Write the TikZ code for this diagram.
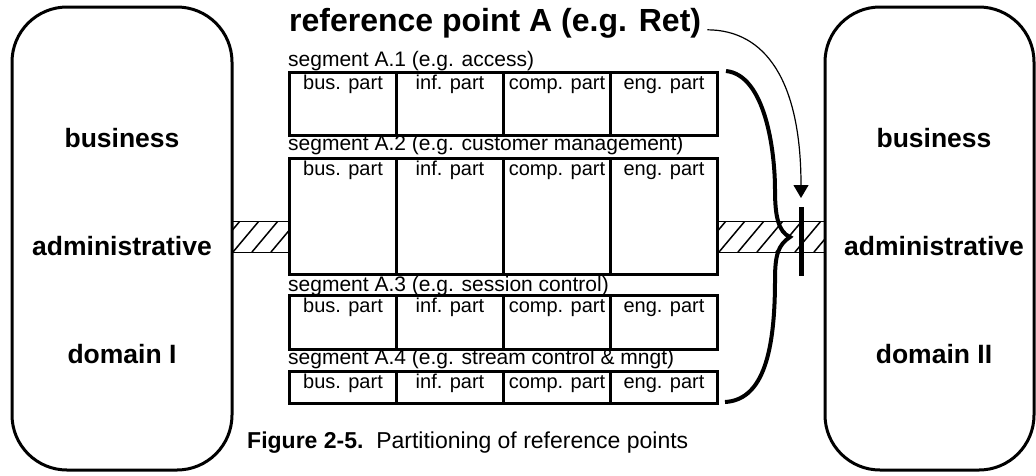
\documentclass[tikz,border=0pt]{standalone}
\usepackage{fontspec}
\setmainfont{Liberation Sans}
\usetikzlibrary{arrows.meta,positioning}

\tikzset{
  dombox/.style={draw, line width=3pt, rounded corners=55pt, minimum height=463pt, inner sep=0pt},
  domtext/.style={font=\fontsize{26.5}{30}\selectfont\bfseries, anchor=base},
  seglabel/.style={font=\fontsize{21}{24}\selectfont, anchor=base west, inner sep=0pt},
  partbox/.style={draw, line width=3pt, inner sep=0pt, minimum width=107pt, text height=17pt,
    anchor=north west, font=\fontsize{20}{22}\selectfont},
  hatchline/.style={line width=1.5pt},
  bracepath/.style={line width=4pt},
}

\begin{document}
\begin{tikzpicture}[x=1pt, y=-1pt]
    \useasboundingbox (0,0) rectangle (1036,475);

    % the two administrative domains
    \node[dombox, minimum width=220pt] (dom1) at (122,238.5) {};
    \node[dombox, minimum width=209pt] (dom2) at (929.5,238.5) {};
    \node[domtext] (bus1) at (122,147) {business};
    \node[domtext] (adm1) at (122,255) {administrative};
    \node[domtext] (dmn1) at (122,363) {domain I};
    \node[domtext] (bus2) at (934,147) {business};
    \node[domtext] (adm2) at (934,255) {administrative};
    \node[domtext] (dmn2) at (934,363) {domain II};

    % hatched links
    \begin{scope}
        \clip (232,221) rectangle (288,252);
        \foreach \x in {214,233,...,300}
            \draw[hatchline] (\x,252) -- ++(26,-31);
    \end{scope}
    \draw[line width=1pt] (232,221) -- (288,221) (232,252) -- (288,252);
    \begin{scope}
        \clip (716,221) rectangle (825,252);
        \foreach \x in {700,719,...,830}
            \draw[hatchline] (\x,252) -- ++(26,-31);
    \end{scope}
    \draw[line width=1pt] (716,221) -- (825,221) (716,252) -- (825,252);

    % segments of the reference point
    \foreach \s/\top/\d/\lbl/\base in {1/71/46/access/66, 2/157/99/customer management/150,
        3/294/37/session control/291, 4/370/15/stream control \& mngt/364} {
        \node[seglabel] (seg\s) at (288,\base) {segment A.\s\ (e.g. \lbl)};
        \foreach \c/\txt in {1/bus. part, 2/inf. part, 3/comp. part, 4/eng. part}
            \node[partbox, text depth=\d pt] (s\s-\c) at ({181+107*\c},\top) {\txt};
    }

    % brace and reference point
    \draw[bracepath] (726,71) .. controls (765,75) and (775,150) .. (775,190)
        .. controls (775,215) and (778,232) .. (790,237)
        .. controls (778,245) and (775,255) .. (775,280)
        .. controls (775,360) and (760,400) .. (725,402);
    \coordinate (rptop) at (801,207);
    \coordinate (rpbot) at (801,276);
    \coordinate (rparrow) at (801,198);
    \draw[line width=5pt] (rptop) -- (rpbot);

    \node[anchor=base west, inner sep=0pt, font=\fontsize{32}{36}\selectfont\bfseries]
        (refA) at (289,31) {reference point A (e.g. Ret)};
    \draw[line width=1.2pt, -{Triangle[width=15pt,length=13pt]}]
        ([xshift=6pt,yshift=-7pt]refA.east) .. controls (765,30) and (801,80) .. (rparrow);

    \node[anchor=base west, inner sep=0pt, font=\fontsize{23}{26}\selectfont]
        (caption) at (247,448) {\textbf{Figure 2-5.}\ \ Partitioning of reference points};
\end{tikzpicture}
\end{document}
